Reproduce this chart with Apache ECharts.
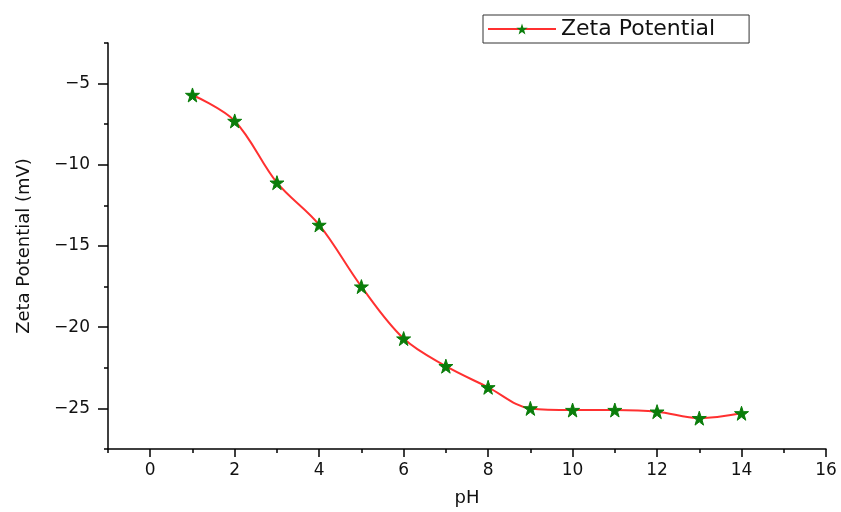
<!DOCTYPE html>
<html>
<head>
<meta charset="utf-8">
<script src="https://cdn.jsdelivr.net/npm/echarts@6/dist/echarts.min.js"></script>
<style>
  html, body { margin: 0; padding: 0; background: #fff; }
  #chart { width: 841px; height: 512px; }
</style>
</head>
<body>
<div id="chart"></div>
<script>
// values
const phValues = [1, 2, 3, 4, 5, 6, 7, 8, 9, 10, 11, 12, 13, 14];
const zetaValues = [-5.7, -7.3, -11.1, -13.7, -17.5, -20.7, -22.4, -23.7, -25.0, -25.1, -25.1, -25.2, -25.6, -25.3];

const xMajorTicks = [0, 2, 4, 6, 8, 10, 12, 14, 16];
const xMinorTicks = [-1, 1, 3, 5, 7, 9, 11, 13, 15];
const yMajorTicks = [-25, -20, -15, -10, -5];
const yMinorTicks = [-27.5, -22.5, -17.5, -12.5, -7.5, -2.5];

const star = 'path://M50,0 L61.8,35.1 L98.1,35.1 L68.8,56.7 L79.4,91.5 L50,70 L20.6,91.5 L31.2,56.7 L1.9,35.1 L38.2,35.1 Z';
const font = '"DejaVu Sans", sans-serif';
const minus = v => String(v).replace('-', '\u2212');

const chart = echarts.init(document.getElementById('chart'));

chart.setOption({
  backgroundColor: '#fff',
  animation: false,
  grid: { left: 108, right: 15, top: 43, bottom: 59 },
  legend: {
    left: 483,
    top: 15,
    padding: [3, 34, 3, 4],
    borderColor: '#333',
    borderWidth: 1,
    itemWidth: 68,
    itemHeight: 14,
    itemGap: 6,
    textStyle: { fontFamily: font, fontSize: 22, color: '#111' },
    data: ['Zeta Potential']
  },
  xAxis: [
    {
      type: 'value',
      min: -1,
      max: 16,
      name: 'pH',
      nameLocation: 'middle',
      nameGap: 40,
      nameTextStyle: { fontFamily: font, fontSize: 18, color: '#111' },
      axisLine: { show: true, onZero: false, lineStyle: { color: '#000', width: 1.5 } },
      axisTick: { show: true, customValues: xMajorTicks, length: 8, lineStyle: { color: '#000', width: 1.5 } },
      axisLabel: { customValues: xMajorTicks, margin: 13, fontFamily: font, fontSize: 17, color: '#111' },
      splitLine: { show: false }
    },
    {
      type: 'value',
      min: -1,
      max: 16,
      position: 'bottom',
      axisLine: { show: false, onZero: false },
      axisTick: { show: true, customValues: xMinorTicks, length: 4, lineStyle: { color: '#000', width: 1.5 } },
      axisLabel: { show: false },
      splitLine: { show: false }
    }
  ],
  yAxis: [
    {
      type: 'value',
      min: -27.5,
      max: -2.5,
      name: 'Zeta Potential (mV)',
      nameLocation: 'middle',
      nameGap: 75,
      nameTextStyle: { fontFamily: font, fontSize: 18, color: '#111' },
      axisLine: { show: true, onZero: false, lineStyle: { color: '#000', width: 1.5 } },
      axisTick: { show: true, customValues: yMajorTicks, length: 10, lineStyle: { color: '#000', width: 1.5 } },
      axisLabel: { customValues: yMajorTicks, margin: 18, fontFamily: font, fontSize: 17, color: '#111', formatter: minus },
      splitLine: { show: false }
    },
    {
      type: 'value',
      min: -27.5,
      max: -2.5,
      position: 'left',
      axisLine: { show: false, onZero: false },
      axisTick: { show: true, customValues: yMinorTicks, length: 4, lineStyle: { color: '#000', width: 1.5 } },
      axisLabel: { show: false },
      splitLine: { show: false }
    }
  ],
  series: [
    {
      name: 'Zeta Potential',
      type: 'line',
      xAxisIndex: 0,
      yAxisIndex: 0,
      data: phValues.map((x, i) => [x, zetaValues[i]]),
      smooth: 0.35,
      symbol: star,
      symbolSize: 14,
      lineStyle: { color: '#ff3030', width: 2 },
      itemStyle: { color: '#0a7d0a', borderColor: '#0a7d0a' },
      z: 3
    }
  ]
});
</script>
</body>
</html>
